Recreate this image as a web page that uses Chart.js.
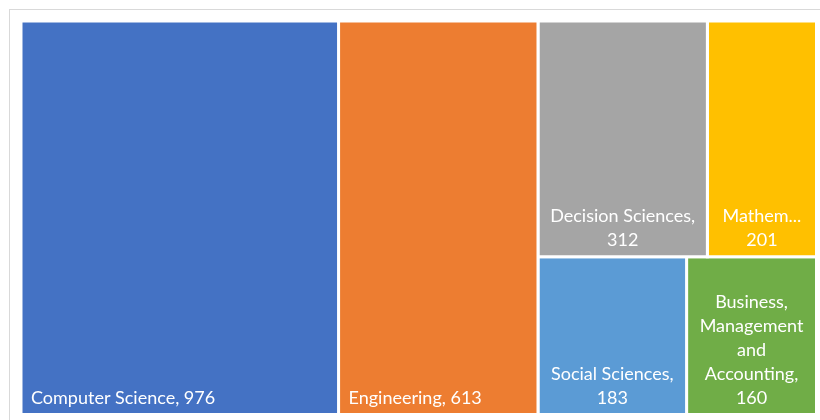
<!DOCTYPE html>
<html>
<head>
<meta charset="utf-8">
<script src="https://cdn.jsdelivr.net/npm/chart.js@4.4.1/dist/chart.umd.min.js"></script>
<style>
  html, body { margin: 0; padding: 0; background: #ffffff; }
  #wrap { width: 820px; height: 420px; }
</style>
</head>
<body>
<div id="wrap"><canvas id="chart" width="820" height="420"></canvas></div>
<script>
// Documents per subject area
const categories = ['Computer Science', 'Engineering', 'Decision Sciences', 'Mathematics',
                    'Social Sciences', 'Business, Management and Accounting'];
const counts = [976, 613, 312, 201, 183, 160];
const colors = ['#4472C4', '#ED7D31', '#A5A5A5', '#FFC000', '#5B9BD5', '#70AD47'];
// Tile arrangement: columns -> rows -> category indices
const tileGroups = [[[0]], [[1]], [[2, 3], [4, 5]]];

const FONT = '18px Lato, "DejaVu Sans", sans-serif';
const PAD = 9;         // horizontal text inset
const BOTTOM_PAD = 11; // baseline inset from tile bottom
const LINE_H = 24;
const ELLIPSIS_RESERVE = 8; // extra room kept when a word has to be cut

const total = counts.reduce((a, b) => a + b, 0);
const sumOf = idx => idx.reduce((s, i) => s + counts[i], 0);

// Slice-and-dice the value space: x runs 0..total, y runs 0..1
const tiles = [];
let colStart = 0;
tileGroups.forEach(col => {
  const colSum = col.reduce((s, row) => s + sumOf(row), 0);
  let rowStart = 0;
  col.forEach(row => {
    const rowSum = sumOf(row);
    const h = rowSum / colSum;
    let cx = colStart;
    row.forEach(i => {
      const w = colSum * counts[i] / rowSum;
      tiles[i] = { x0: cx, x1: cx + w, y0: rowStart, y1: rowStart + h };
      cx += w;
    });
    rowStart += h;
  });
  colStart += colSum;
});

const datasets = tiles.map((t, i) => ({
  label: categories[i],
  data: [
    { x: t.x0, y: t.y0 }, { x: t.x1, y: t.y0 }, { x: t.x1, y: t.y1 },
    { x: t.x0, y: t.y1 }, { x: t.x0, y: t.y0 }
  ],
  showLine: true,
  fill: 'shape',
  backgroundColor: colors[i],
  borderColor: '#ffffff',
  borderWidth: 3,
  borderJoinStyle: 'miter',
  pointRadius: 0,
  tension: 0,
  clip: 4
}));

function wrapLabel(ctx, text, maxW) {
  const fit = word => {
    if (ctx.measureText(word).width <= maxW) return word;
    let s = word;
    while (s.length > 1 && ctx.measureText(s + '...').width > maxW - ELLIPSIS_RESERVE) s = s.slice(0, -1);
    return s + '...';
  };
  const lines = [];
  let cur = '';
  text.split(' ').forEach(word => {
    const trial = cur ? cur + ' ' + word : word;
    if (ctx.measureText(trial).width <= maxW) {
      cur = trial;
    } else {
      if (cur) lines.push(cur);
      cur = fit(word);
    }
  });
  if (cur) lines.push(cur);
  return lines;
}

const frame = {
  id: 'frame',
  beforeDraw(chart) {
    const ctx = chart.ctx;
    ctx.save();
    ctx.strokeStyle = '#d9d9d9';
    ctx.lineWidth = 1;
    ctx.strokeRect(9.5, 9.5, 1000, 1000);
    ctx.restore();
  }
};

const tileLabels = {
  id: 'tileLabels',
  afterDatasetsDraw(chart) {
    const { ctx, scales: { x: xs, y: ys } } = chart;
    ctx.save();
    ctx.font = FONT;
    ctx.fillStyle = '#ffffff';
    ctx.textBaseline = 'alphabetic';
    tiles.forEach((t, i) => {
      const left = xs.getPixelForValue(t.x0);
      const right = xs.getPixelForValue(t.x1);
      const bottom = ys.getPixelForValue(t.y1);
      const text = categories[i] + ', ' + counts[i];
      const maxW = right - left - 2 * PAD;
      if (ctx.measureText(text).width <= maxW) {
        ctx.textAlign = 'left';
        ctx.fillText(text, left + PAD + 1, bottom - BOTTOM_PAD);
        return;
      }
      const lines = wrapLabel(ctx, text, maxW);
      ctx.textAlign = 'center';
      const cx = (left + right) / 2;
      lines.forEach((ln, k) => {
        ctx.fillText(ln, cx, bottom - BOTTOM_PAD - (lines.length - 1 - k) * LINE_H);
      });
    });
    ctx.restore();
  }
};

new Chart(document.getElementById('chart'), {
  type: 'scatter',
  data: { datasets },
  options: {
    responsive: false,
    animation: false,
    events: [],
    layout: { padding: { left: 21, top: 21, right: 3.5, bottom: 5.5 } },
    plugins: { legend: { display: false }, tooltip: { enabled: false } },
    scales: {
      x: { type: 'linear', min: 0, max: total, display: false },
      y: { type: 'linear', min: 0, max: 1, reverse: true, display: false }
    }
  },
  plugins: [frame, tileLabels]
});
</script>
</body>
</html>
